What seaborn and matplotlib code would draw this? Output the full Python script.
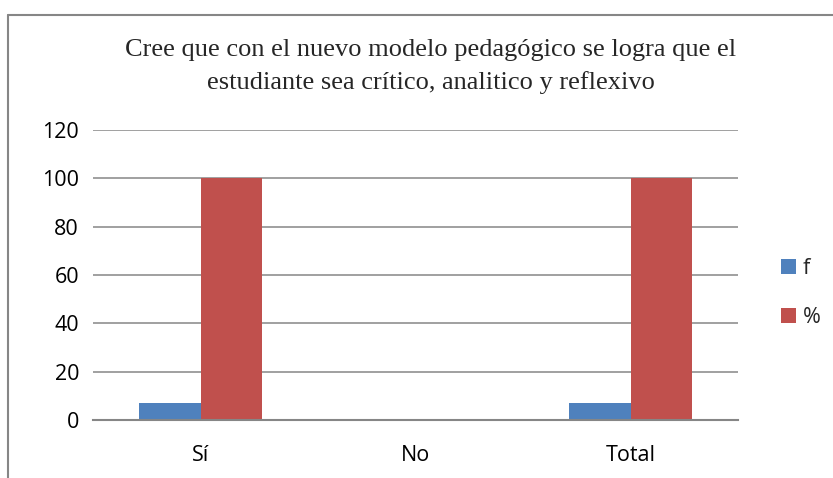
import matplotlib
matplotlib.use("Agg")
import matplotlib.pyplot as plt
from matplotlib.lines import Line2D
import seaborn as sns
import pandas as pd

categories = ["Sí", "No", "Total"]
series_names = ["f", "%"]
f_values = [7, 0, 7]
pct_values = [100, 0, 100]
y_ticks = [0, 20, 40, 60, 80, 100, 120]
title = "Cree que con el nuevo modelo pedagógico se logra que el\nestudiante sea crítico, analitico y reflexivo"

df = pd.DataFrame({
    "cat": categories * 2,
    "serie": [series_names[0]] * 3 + [series_names[1]] * 3,
    "val": f_values + pct_values,
})

sns.set_theme(style="white")
plt.rcParams["font.family"] = ["Open Sans", "DejaVu Sans"]

W, H = 833, 478
fig = plt.figure(figsize=(W / 100, H / 100), dpi=100)
ax = fig.add_axes([93 / W, 1 - 420 / H, (738 - 93) / W, (420 - 130) / H])

sns.barplot(data=df, x="cat", y="val", hue="serie", order=categories,
            hue_order=series_names, palette=["#4F81BD", "#C0504D"],
            width=0.576, saturation=1, ax=ax, legend=True, linewidth=0)

ax.set_ylim(0, 120)
ax.set_yticks(y_ticks)
ax.set_xlim(-0.5, 2.5)
ax.yaxis.grid(True, color="#868686", linewidth=1.1)
ax.set_axisbelow(True)
for s in ["top", "right", "left"]:
    ax.spines[s].set_visible(False)
ax.spines["bottom"].set_color("#868686")
ax.spines["bottom"].set_linewidth(1.5)
ax.set_xlabel("")
ax.set_ylabel("")
ax.tick_params(axis="y", length=0, pad=10, labelsize=15.5, labelcolor="black")
ax.tick_params(axis="x", length=0, pad=18, labelsize=15.5, labelcolor="black")

handles, labels = ax.get_legend_handles_labels()
ax.get_legend().remove()
fig.legend(handles, labels, loc="center left", bbox_to_anchor=(762 / W, 1 - 293 / H),
           frameon=False, fontsize=15.5, handlelength=0.7, handleheight=0.7,
           handletextpad=0.3, labelspacing=1.3)

fig.text(431 / W, 1 - 66.5 / H, title, ha="center", va="center",
         family=["Liberation Serif"], fontsize=19, linespacing=1.55)

fig.add_artist(Line2D([8 / W, 1], [1 - 15 / H, 1 - 15 / H], transform=fig.transFigure,
                      color="#868686", linewidth=1.5))
fig.add_artist(Line2D([8 / W, 8 / W], [0, 1 - 15 / H], transform=fig.transFigure,
                      color="#868686", linewidth=1.5))

fig.savefig("out.png", dpi=100, facecolor="white")
